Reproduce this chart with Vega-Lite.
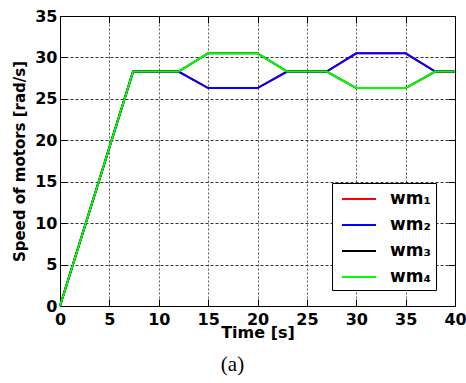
{
  "$schema": "https://vega.github.io/schema/vega-lite/v6.json",
  "width": 395,
  "height": 290,
  "autosize": {"type": "none"},
  "padding": {"left": 60, "top": 16, "right": 11, "bottom": 77},
  "background": "white",
  "config": {
    "view": {"stroke": "#000", "strokeWidth": 1}
  },
  "title": {"text": "(a)", "orient": "bottom", "font": "Liberation Serif", "fontSize": 21, "fontWeight": "normal", "color": "#000", "offset": 14, "dx": -25},
  "data": {
    "values": [
      {"t": 0, "speed": 0, "series": "wm₁"},
      {"t": 7.4, "speed": 28.3, "series": "wm₁"},
      {"t": 12, "speed": 28.3, "series": "wm₁"},
      {"t": 15, "speed": 26.3, "series": "wm₁"},
      {"t": 20, "speed": 26.3, "series": "wm₁"},
      {"t": 23, "speed": 28.3, "series": "wm₁"},
      {"t": 27, "speed": 28.3, "series": "wm₁"},
      {"t": 30, "speed": 30.5, "series": "wm₁"},
      {"t": 35, "speed": 30.5, "series": "wm₁"},
      {"t": 38, "speed": 28.3, "series": "wm₁"},
      {"t": 40, "speed": 28.3, "series": "wm₁"},
      {"t": 0, "speed": 0, "series": "wm₂"},
      {"t": 7.4, "speed": 28.3, "series": "wm₂"},
      {"t": 12, "speed": 28.3, "series": "wm₂"},
      {"t": 15, "speed": 26.3, "series": "wm₂"},
      {"t": 20, "speed": 26.3, "series": "wm₂"},
      {"t": 23, "speed": 28.3, "series": "wm₂"},
      {"t": 27, "speed": 28.3, "series": "wm₂"},
      {"t": 30, "speed": 30.5, "series": "wm₂"},
      {"t": 35, "speed": 30.5, "series": "wm₂"},
      {"t": 38, "speed": 28.3, "series": "wm₂"},
      {"t": 40, "speed": 28.3, "series": "wm₂"},
      {"t": 0, "speed": 0, "series": "wm₃"},
      {"t": 7.4, "speed": 28.3, "series": "wm₃"},
      {"t": 12, "speed": 28.3, "series": "wm₃"},
      {"t": 15, "speed": 30.5, "series": "wm₃"},
      {"t": 20, "speed": 30.5, "series": "wm₃"},
      {"t": 23, "speed": 28.3, "series": "wm₃"},
      {"t": 27, "speed": 28.3, "series": "wm₃"},
      {"t": 30, "speed": 26.3, "series": "wm₃"},
      {"t": 35, "speed": 26.3, "series": "wm₃"},
      {"t": 38, "speed": 28.3, "series": "wm₃"},
      {"t": 40, "speed": 28.3, "series": "wm₃"},
      {"t": 0, "speed": 0, "series": "wm₄"},
      {"t": 7.4, "speed": 28.3, "series": "wm₄"},
      {"t": 12, "speed": 28.3, "series": "wm₄"},
      {"t": 15, "speed": 30.5, "series": "wm₄"},
      {"t": 20, "speed": 30.5, "series": "wm₄"},
      {"t": 23, "speed": 28.3, "series": "wm₄"},
      {"t": 27, "speed": 28.3, "series": "wm₄"},
      {"t": 30, "speed": 26.3, "series": "wm₄"},
      {"t": 35, "speed": 26.3, "series": "wm₄"},
      {"t": 38, "speed": 28.3, "series": "wm₄"},
      {"t": 40, "speed": 28.3, "series": "wm₄"}
    ]
  },
  "layer": [
    {
      "mark": {"type": "line", "strokeWidth": 2},
      "encoding": {
        "x": {
          "field": "t", "type": "quantitative",
          "scale": {"domain": [0, 40], "nice": false},
          "axis": {
            "values": [0, 5, 10, 15, 20, 25, 30, 35, 40],
            "grid": true, "gridDash": [2, 2], "gridColor": "#555", "gridOpacity": 1,
            "ticks": true, "tickSize": -7, "tickColor": "#000", "tickWidth": 1,
            "domain": true, "domainColor": "#000",
            "labelFont": "DejaVu Sans", "labelFontSize": 16, "labelFontWeight": "bold", "labelColor": "#000",
            "labelPadding": 12, "labelFlush": false,
            "title": "Time [s]", "titleFont": "DejaVu Sans", "titleFontSize": 16, "titleFontWeight": "bold", "titleColor": "#000",
            "titlePadding": -3
          }
        },
        "y": {
          "field": "speed", "type": "quantitative",
          "scale": {"domain": [0, 35], "nice": false},
          "axis": {
            "values": [0, 5, 10, 15, 20, 25, 30, 35],
            "grid": true, "gridDash": [3, 2], "gridColor": "#333", "gridOpacity": 1,
            "ticks": true, "tickSize": -7, "tickColor": "#000", "tickWidth": 1,
            "domain": true, "domainColor": "#000",
            "labelFont": "DejaVu Sans", "labelFontSize": 16, "labelFontWeight": "bold", "labelColor": "#000",
            "labelPadding": 10, "labelFlush": false,
            "title": "Speed of motors [rad/s]", "titleFont": "DejaVu Sans", "titleFontSize": 15, "titleFontWeight": "bold", "titleColor": "#000",
            "titlePadding": 7
          }
        },
        "color": {
          "field": "series", "type": "nominal",
          "scale": {"domain": ["wm₁", "wm₂", "wm₃", "wm₄"], "range": ["#ff0000", "#0000ff", "#000000", "#00ff00"]},
          "legend": {
            "orient": "none", "legendX": 272, "legendY": 167,
            "title": null, "symbolType": "M-1,0H2.4", "symbolSize": 400, "symbolStrokeWidth": 2, "symbolOffset": 4,
            "labelFont": "DejaVu Sans", "labelFontSize": 17, "labelFontWeight": "bold", "labelColor": "#000",
            "labelOffset": 27, "padding": 5, "strokeColor": "#000", "fillColor": "#fff", "rowPadding": 7, "cornerRadius": 0
          }
        }
      }
    },
    {
      "mark": {"type": "line", "opacity": 0},
      "encoding": {
        "x": {
          "field": "t", "type": "quantitative",
          "axis": {
            "orient": "top", "values": [0, 5, 10, 15, 20, 25, 30, 35, 40],
            "grid": false, "labels": false, "title": null, "domain": true, "domainColor": "#000",
            "ticks": true, "tickSize": -7, "tickColor": "#000", "tickWidth": 1
          }
        },
        "y": {
          "field": "speed", "type": "quantitative",
          "axis": {
            "orient": "right", "values": [0, 5, 10, 15, 20, 25, 30, 35],
            "grid": false, "labels": false, "title": null, "domain": true, "domainColor": "#000",
            "ticks": true, "tickSize": -7, "tickColor": "#000", "tickWidth": 1
          }
        }
      }
    }
  ],
  "resolve": {"axis": {"x": "independent", "y": "independent"}}
}
